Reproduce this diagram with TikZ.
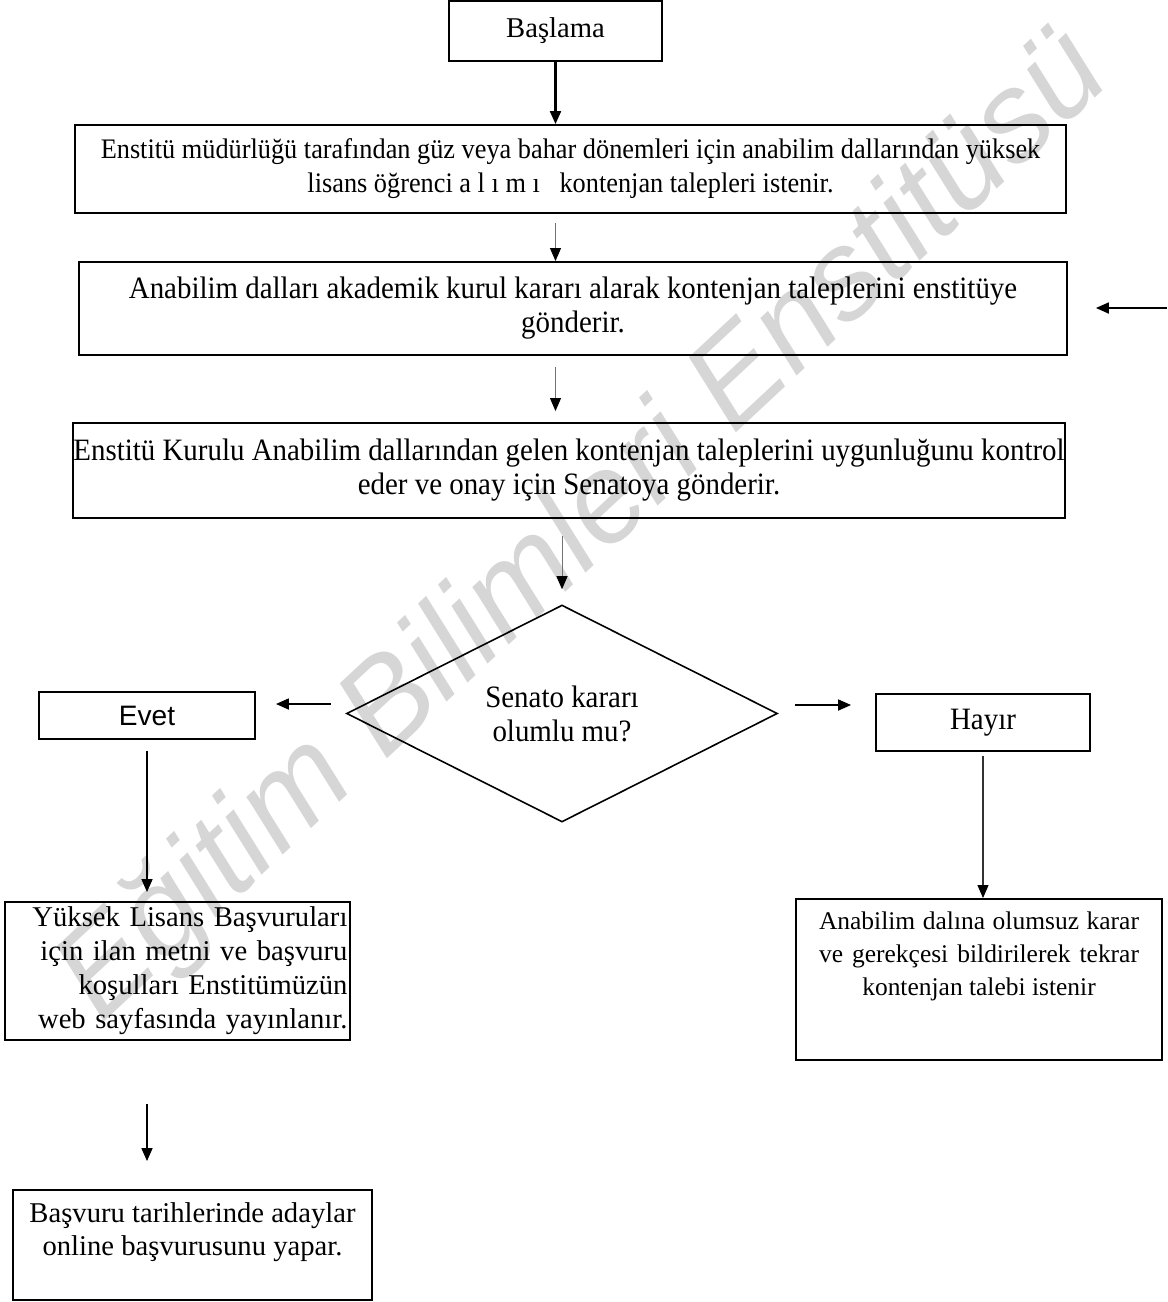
\documentclass[tikz,border=0pt]{standalone}
\usepackage{fontspec}
\setmainfont{Liberation Serif}
\setsansfont{Liberation Sans}
\newfontfamily\narrowserif[FakeStretch=0.93]{Liberation Serif}
\usetikzlibrary{shapes.geometric, arrows.meta}

\begin{document}
\begin{tikzpicture}[x=0.02cm, y=-0.02cm,
    txt/.style={font=\fontsize{16.3}{19.3}\selectfont},
    smalltxt/.style={font=\fontsize{14.5}{18.8}\selectfont},
    narrow/.style={font=\narrowserif\fontsize{16.1}{19.3}\selectfont},
    bignarrow/.style={font=\narrowserif\fontsize{17.7}{19.3}\selectfont},
    box/.style={draw, rectangle, line width=1.1pt, inner sep=0pt, align=center},
    arrowtip/.style={-{Triangle[length=0.26cm, width=0.22cm, color=black]}},
    arrow/.style={arrowtip, line width=1pt},
    thinarrow/.style={arrowtip, line width=0.5pt, black!55}]
    \useasboundingbox (0,0) rectangle (1167,1302);

    % watermark
    \node[rotate=43, text=black!16, font=\sffamily\itshape\fontsize{72}{72}\selectfont] (watermark) at (585,528) {Eğitim Bilimleri Enstitüsü};

    \node[box, txt, minimum width=4.26cm, minimum height=1.2cm] (start) at (555.5,31) {Başlama};
    \node[box, narrow, minimum width=19.82cm, minimum height=1.76cm] (request) at (570.5,169)
        {Enstitü müdürlüğü tarafından güz veya bahar dönemleri için anabilim dallarından yüksek\\
         lisans öğrenci a l ı m ı \ \ kontenjan talepleri istenir.};
    \node[box, bignarrow, minimum width=19.76cm, minimum height=1.86cm] (dept) at (573,308.5)
        {Anabilim dalları akademik kurul kararı alarak kontenjan taleplerini enstitüye\\ gönderir.};
    \node[box, bignarrow, minimum width=19.72cm, minimum height=1.9cm] (board) at (569,470.5)
        {Enstitü Kurulu Anabilim dallarından gelen kontenjan taleplerini uygunluğunu kontrol\\
         eder ve onay için Senatoya gönderir.};
    \node[draw, diamond, line width=0.9pt, inner sep=0pt, minimum width=8.62cm, minimum height=4.34cm,
        align=center, bignarrow] (decision) at (562,713.5) {Senato kararı\\ olumlu mu?};

    \node[box, font=\sffamily\fontsize{16}{19}\selectfont, minimum width=4.32cm, minimum height=0.94cm] (yes) at (147,715.5) {Evet};
    \node[box, bignarrow, minimum width=4.28cm, minimum height=1.14cm] (no) at (983,722.5) {Hayır};

    \node[box, txt, align=right, text width=6.8cm, inner xsep=0.05cm, minimum height=2.76cm] (announce) at (177.5,971)
        {Yüksek Lisans Başvuruları\\ için ilan metni ve başvuru\\ koşulları Enstitümüzün\\ web sayfasında yayınlanır.};
    \node[box, txt] (apply) at (192.5,1245)
        {\parbox[c][2.2cm][t]{7.18cm}{\centering\rule{0pt}{0.64cm}Başvuru tarihlerinde adaylar\\ online başvurusunu yapar.}};
    \node[box, smalltxt] (reject) at (979,979.5)
        {\parbox[c][3.22cm][t]{7.32cm}{\centering\rule{0pt}{0.6cm}\makebox[6.4cm][s]{Anabilim dalına olumsuz karar}\\
         \makebox[6.4cm][s]{ve gerekçesi bildirilerek tekrar}\\ kontenjan talebi istenir}};

    \coordinate (back) at (1167,308);

    \draw[arrow, line width=1.2pt] (start.south) -- (start.south |- request.north);
    \draw[thinarrow, shorten <=0.18cm] (start.south |- request.south) -- (start.south |- dept.north);
    \draw[thinarrow, shorten <=0.22cm, shorten >=0.22cm] (start.south |- dept.south) -- (start.south |- board.north);
    \draw[thinarrow, shorten <=0.34cm, shorten >=0.3cm] (decision.north |- board.south) -- (decision.north);
    \draw[arrow, shorten >=0.56cm] (back) -- (back -| dept.east);

    \draw[arrow, shorten <=0.3cm, shorten >=0.4cm] ([yshift=0.19cm]decision.west) -- ([yshift=0.19cm]decision.west -| yes.east);
    \draw[arrow, shorten <=0.34cm, shorten >=0.48cm] ([yshift=0.17cm]decision.east) -- ([yshift=0.17cm]decision.east -| no.west);

    \draw[arrow, shorten <=0.22cm, shorten >=0.18cm] (yes.south) -- (yes.south |- announce.north);
    \draw[arrow, shorten <=1.26cm, shorten >=0.56cm] (yes.south |- announce.south) -- (yes.south |- apply.north);
    \draw[arrowtip, line width=0.6pt, black!80, shorten <=0.08cm] (no.south) -- (no.south |- reject.north);
\end{tikzpicture}
\end{document}
